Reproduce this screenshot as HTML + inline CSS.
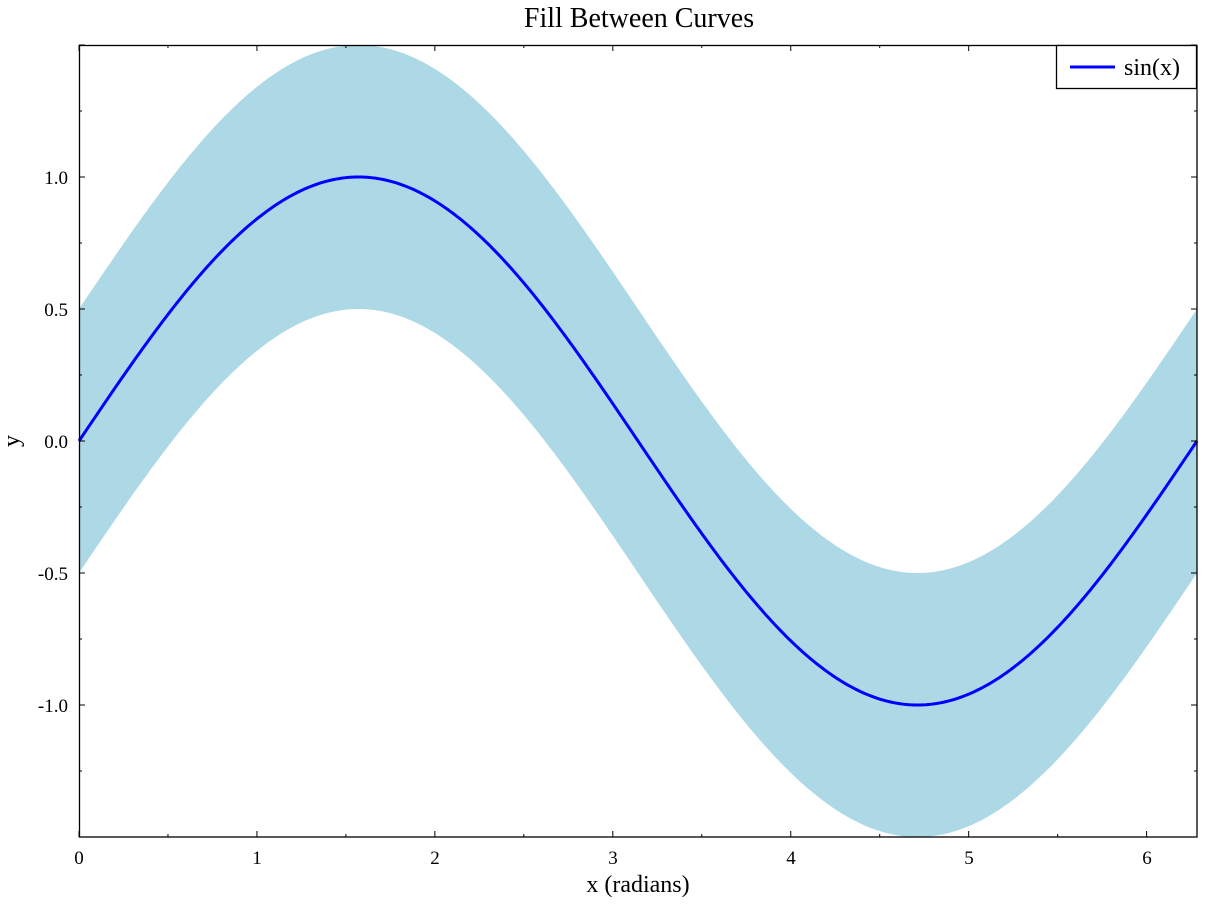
<!DOCTYPE html>
<html><head><meta charset="utf-8"><style>
body{margin:0;background:#fff;}
svg text{font-family:"Liberation Serif",serif;fill:#000;}
</style></head><body>
<svg id="s" width="1205" height="905" xmlns="http://www.w3.org/2000/svg">
<path id="fill" fill="#add8e6" stroke="none"/>
<path id="line" fill="none" stroke="#0000ff" stroke-width="3"/>
<g id="ticks" stroke="#000" stroke-width="1"></g>
<rect x="79.5" y="45.5" width="1117.5" height="791.5" fill="none" stroke="#000" stroke-width="1.3"/>
<text x="639" y="27" font-size="28" text-anchor="middle">Fill Between Curves</text>
<text x="638" y="892" font-size="24" text-anchor="middle">x (radians)</text>
<text x="19" y="441" font-size="24" text-anchor="middle" transform="rotate(-90 19 441)">y</text>
<g font-size="19" text-anchor="middle">
<text x="79" y="864">0</text><text x="257" y="864">1</text><text x="435" y="864">2</text><text x="613" y="864">3</text><text x="791" y="864">4</text><text x="969" y="864">5</text><text x="1147" y="864">6</text>
</g>
<g font-size="19" text-anchor="end">
<text x="68" y="184">1.0</text><text x="68" y="316">0.5</text><text x="68" y="448">0.0</text><text x="68" y="580">-0.5</text><text x="68" y="712">-1.0</text>
</g>
<rect x="1056.5" y="45.5" width="140" height="43" fill="#fff" stroke="#000" stroke-width="1.3"/>
<line x1="1070" y1="67" x2="1115" y2="67" stroke="#0000ff" stroke-width="3"/>
<text x="1124" y="75" font-size="24">sin(x)</text>
</svg>
<script>
var X0=79,SX=(1197-79)/(2*Math.PI),Y0=441,SY=264;
function px(x){return X0+x*SX;}function py(y){return Y0-y*SY;}
var N=400,up=[],dn=[],ln=[];
for(var i=0;i<=N;i++){var x=2*Math.PI*i/N,s=Math.sin(x);
up.push(px(x).toFixed(2)+","+py(s+0.5).toFixed(2));
dn.push(px(x).toFixed(2)+","+py(s-0.5).toFixed(2));
ln.push(px(x).toFixed(2)+","+py(s).toFixed(2));}
document.getElementById("fill").setAttribute("d","M"+up.join("L")+"L"+dn.reverse().join("L")+"Z");
document.getElementById("line").setAttribute("d","M"+ln.join("L"));
var g=document.getElementById("ticks"),h="";
for(var k=0;k<=12;k++){var x=px(k*0.5),L=(k%2==0)?6:3;
h+='<line x1="'+x+'" y1="837" x2="'+x+'" y2="'+(837-L)+'"/><line x1="'+x+'" y1="45" x2="'+x+'" y2="'+(45+L)+'"/>';}
for(var k=-6;k<=6;k++){var y=py(k*0.25),L=(k%2==0)?6:3;
h+='<line x1="79" y1="'+y+'" x2="'+(79+L)+'" y2="'+y+'"/><line x1="1197" y1="'+y+'" x2="'+(1197-L)+'" y2="'+y+'"/>';}
g.innerHTML=h;
</script>
</body></html>
